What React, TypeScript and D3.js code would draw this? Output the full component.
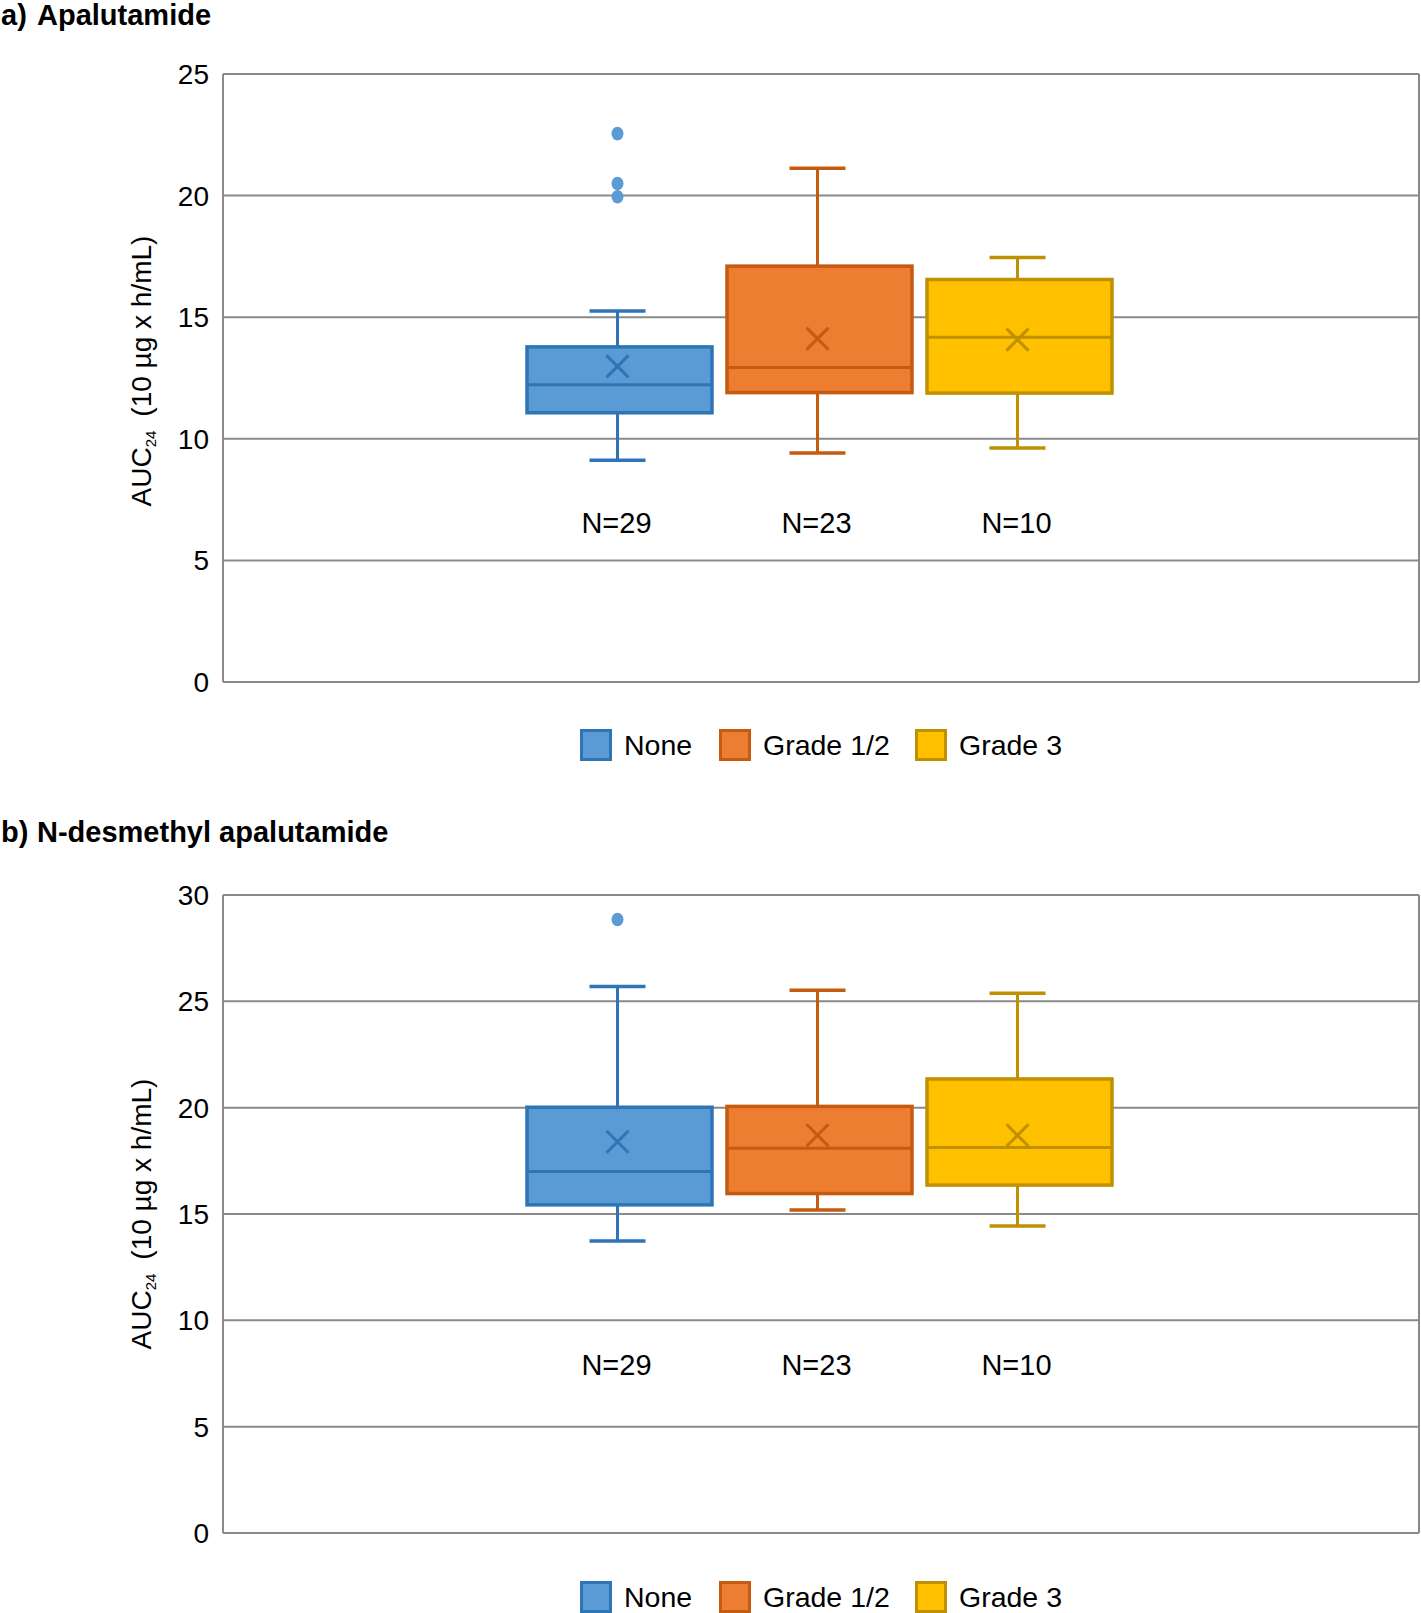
import React from "react";
import * as d3 from "d3";

// ---------- data ----------
const groups = ["None", "Grade 1/2", "Grade 3"];
const nLabels = ["N=29", "N=23", "N=10"];

// Panel a: Apalutamide
const apaMin = [9.12, 9.42, 9.62];
const apaQ1 = [11.07, 11.9, 11.88];
const apaMedian = [12.22, 12.93, 14.18];
const apaQ3 = [13.78, 17.1, 16.55];
const apaMax = [15.25, 21.12, 17.45];
const apaMean = [12.98, 14.12, 14.08];
const apaOutliers = [[19.95, 20.5, 22.55], [], []];
const apaTicks = [0, 5, 10, 15, 20, 25];

// Panel b: N-desmethyl apalutamide
const ndaMin = [13.73, 15.19, 14.43];
const ndaQ1 = [15.43, 15.96, 16.36];
const ndaMedian = [17.0, 18.09, 18.13];
const ndaQ3 = [20.02, 20.06, 21.35];
const ndaMax = [25.7, 25.52, 25.38];
const ndaMean = [18.4, 18.7, 18.7];
const ndaOutliers = [[28.85], [], []];
const ndaTicks = [0, 5, 10, 15, 20, 25, 30];

const fills = ["#5B9BD5", "#ED7D31", "#FFC000"];
const strokes = ["#2E75B6", "#C55A11", "#BF9000"];

const FONT = "'Liberation Sans', Arial, Helvetica, sans-serif";
const GRID = "#8a8a8a";

type PanelProps = {
  letter: string;
  title: string;
  titleBaseline: number;
  top: number;
  bottom: number;
  ticks: number[];
  min: number[];
  q1: number[];
  med: number[];
  q3: number[];
  max: number[];
  mean: number[];
  outliers: number[][];
  yTitleY: number;
  nLabelY: number;
  legendY: number;
};

const LEFT = 223;
const RIGHT = 1419;

function Panel(p: PanelProps) {
  const y = d3
    .scaleLinear()
    .domain([0, d3.max(p.ticks) as number])
    .range([p.bottom, p.top]);
  const center = (LEFT + RIGHT) / 2 - 1.5;
  const x = d3
    .scaleBand<string>()
    .domain(groups)
    .range([center - 300, center + 300])
    .paddingInner(0.075)
    .paddingOuter(0.0375);
  const bw = x.bandwidth();
  const capW = 56;
  const mk = 11;

  const legendSquares = [580, 719, 915];
  const legendText = [624, 763, 959];

  return (
    <g>
      <text x={1} y={p.titleBaseline} fontFamily={FONT} fontWeight="bold" fontSize={29} fill="#000">
        {p.letter}
      </text>
      <text x={37} y={p.titleBaseline} fontFamily={FONT} fontWeight="bold" fontSize={29} fill="#000">
        {p.title}
      </text>

      {/* gridlines */}
      {p.ticks.map((t) => (
        <line key={"g" + t} x1={LEFT} x2={RIGHT} y1={y(t)} y2={y(t)} stroke={GRID} strokeWidth={2} />
      ))}
      <line x1={LEFT} x2={LEFT} y1={p.top} y2={p.bottom} stroke={GRID} strokeWidth={2} />
      <line x1={RIGHT} x2={RIGHT} y1={p.top} y2={p.bottom} stroke={GRID} strokeWidth={2} />

      {/* tick labels */}
      {p.ticks.map((t) => (
        <text
          key={"t" + t}
          x={209}
          y={y(t)}
          dy="0.36em"
          textAnchor="end"
          fontFamily={FONT}
          fontSize={28}
          fill="#000"
        >
          {t}
        </text>
      ))}

      {/* y title */}
      <text
        transform={`translate(151,${p.yTitleY}) rotate(-90)`}
        textAnchor="middle"
        fontFamily={FONT}
        fontSize={28}
        fill="#000"
      >
        <tspan>AUC</tspan>
        <tspan fontSize={15} dy={5}>24</tspan>
        <tspan dy={-5}>{"\u2002(10 \u00b5g x h/mL)"}</tspan>
      </text>

      {/* boxes */}
      {groups.map((g, i) => {
        const x0 = x(g) as number;
        const cx = x0 + bw / 2;
        const wx = cx - 2;
        return (
          <g key={g}>
            <line x1={wx} x2={wx} y1={y(p.max[i])} y2={y(p.q3[i])} stroke={strokes[i]} strokeWidth={3} />
            <line x1={wx} x2={wx} y1={y(p.q1[i])} y2={y(p.min[i])} stroke={strokes[i]} strokeWidth={3} />
            <line x1={wx - capW / 2} x2={wx + capW / 2} y1={y(p.max[i])} y2={y(p.max[i])} stroke={strokes[i]} strokeWidth={3.5} />
            <line x1={wx - capW / 2} x2={wx + capW / 2} y1={y(p.min[i])} y2={y(p.min[i])} stroke={strokes[i]} strokeWidth={3.5} />
            <rect
              x={x0}
              y={y(p.q3[i])}
              width={bw}
              height={y(p.q1[i]) - y(p.q3[i])}
              fill={fills[i]}
              stroke={strokes[i]}
              strokeWidth={3.5}
            />
            <line x1={x0} x2={x0 + bw} y1={y(p.med[i])} y2={y(p.med[i])} stroke={strokes[i]} strokeWidth={3} />
            <path
              d={`M${wx - mk},${y(p.mean[i]) - mk}L${wx + mk},${y(p.mean[i]) + mk}M${wx - mk},${y(p.mean[i]) + mk}L${wx + mk},${y(p.mean[i]) - mk}`}
              stroke={strokes[i]}
              strokeWidth={3}
              fill="none"
            />
            {p.outliers[i].map((o, k) => (
              <ellipse key={k} cx={wx} cy={y(o)} rx={6} ry={6.8} fill={fills[i]} />
            ))}
            <text
              x={cx - 3}
              y={p.nLabelY}
              textAnchor="middle"
              fontFamily={FONT}
              fontSize={29}
              fill="#000"
            >
              {nLabels[i]}
            </text>
          </g>
        );
      })}

      {/* legend */}
      {groups.map((g, i) => (
        <g key={"l" + g}>
          <rect
            x={legendSquares[i] + 1.5}
            y={p.legendY - 14.5}
            width={29}
            height={29}
            fill={fills[i]}
            stroke={strokes[i]}
            strokeWidth={3}
          />
          <text x={legendText[i]} y={p.legendY} dy="0.36em" fontFamily={FONT} fontSize={28.5} fill="#000">
            {g}
          </text>
        </g>
      ))}
    </g>
  );
}

export default function App() {
  return (
    <svg
      width={1421}
      height={1613}
      style={{ position: "absolute", left: 0, top: 0, background: "#fff" }}
    >
      <rect width={1421} height={1613} fill="#fff" />
      <Panel
        letter="a)"
        title="Apalutamide"
        titleBaseline={25}
        top={74}
        bottom={682}
        ticks={apaTicks}
        min={apaMin}
        q1={apaQ1}
        med={apaMedian}
        q3={apaQ3}
        max={apaMax}
        mean={apaMean}
        outliers={apaOutliers}
        yTitleY={371}
        nLabelY={533}
        legendY={745}
      />
      <Panel
        letter="b)"
        title="N-desmethyl apalutamide"
        titleBaseline={842}
        top={895}
        bottom={1533}
        ticks={ndaTicks}
        min={ndaMin}
        q1={ndaQ1}
        med={ndaMedian}
        q3={ndaQ3}
        max={ndaMax}
        mean={ndaMean}
        outliers={ndaOutliers}
        yTitleY={1214}
        nLabelY={1375}
        legendY={1597}
      />
    </svg>
  );
}
